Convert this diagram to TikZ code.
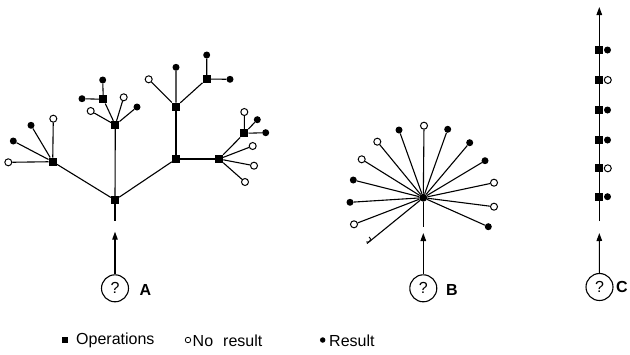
\documentclass[tikz,border=0pt]{standalone}
\usepackage{fontspec}
\setmainfont{Liberation Sans}
\usetikzlibrary{arrows.meta}
\tikzset{
  op/.style={rectangle,fill=black,inner sep=0pt,minimum size=8pt},
  res/.style={circle,fill=black,inner sep=0pt,minimum size=7pt},
  nores/.style={circle,draw=black,fill=white,line width=1pt,inner sep=0pt,minimum size=7pt},
  edge/.style={line width=1.1pt},
  arr/.style={line width=1.1pt,-{Triangle[length=8pt,width=5.5pt]}},
  qcirc/.style={circle,draw,line width=1.1pt,minimum size=27pt,inner sep=0pt,font=\fontsize{16}{16}\selectfont},
  lbl/.style={font=\fontsize{16}{16}\selectfont\bfseries,anchor=west,inner sep=0pt},
  leg/.style={font=\fontsize{16}{16}\selectfont,anchor=west,inner sep=0pt},
  dot/.style={circle,fill=black,inner sep=0pt,minimum size=6pt}
}
\begin{document}
\begin{tikzpicture}[x=1pt,y=-1pt]
\useasboundingbox[fill=white] (0,0) rectangle (630,354);
% ---------------- A ----------------
\node[op] (r) at (115,200) {};
\node[op] (l1) at (52.7,161.7) {};
\node[op] (m1) at (115.3,125) {};
\node[op] (m2) at (103.3,99.3) {};
\node[op] (t1) at (176,159) {};
\node[op] (t2) at (176,106.7) {};
\node[op] (t3) at (219,159) {};
\node[op] (t4) at (206.7,79) {};
\node[op] (t5) at (244.3,133.3) {};
\node[nores] (a1) at (8.3,162.3) {};
\node[res] (a2) at (13.3,141) {};
\node[res] (a3) at (31,125.3) {};
\node[nores] (a4) at (53.3,118.7) {};
\node[nores] (a5) at (90.7,111) {};
\node[nores] (a6) at (123.7,97.3) {};
\node[res] (a7) at (137,107) {};
\node[res] (a8) at (82,98.7) {};
\node[res] (a9) at (102.7,80) {};
\node[nores] (a10) at (148.7,79.3) {};
\node[res] (a11) at (176,67.3) {};
\node[res] (a12) at (206.7,55) {};
\node[res] (a13) at (230,79.3) {};
\node[nores] (a14) at (252.7,146) {};
\node[nores] (a15) at (254,165.7) {};
\node[nores] (a16) at (245,182) {};
\node[nores] (a17) at (244.3,112) {};
\node[res] (a18) at (257.3,119.7) {};
\node[res] (a19) at (265.7,132.7) {};
\draw[edge] (r) -- (l1) (r) -- (m1) (r) -- (t1);
\draw[edge] (l1) -- (a1) (l1) -- (a2) (l1) -- (a3) (l1) -- (a4);
\draw[edge] (m1) -- (a5) (m1) -- (m2) (m1) -- (a6) (m1) -- (a7);
\draw[edge] (m2) -- (a8) (m2) -- (a9);
\draw[edge] (t1) -- (t2) (t1) -- (t3);
\draw[edge] (t2) -- (a10) (t2) -- (a11) (t2) -- (t4);
\draw[edge] (t4) -- (a12) (t4) -- (a13);
\draw[edge] (t3) -- (t5) (t3) -- (a14) (t3) -- (a15) (t3) -- (a16);
\draw[edge] (t5) -- (a17) (t5) -- (a18) (t5) -- (a19);
\coordinate (ra) at (115,221);
\draw[edge] (r) -- (ra);
\node[qcirc] (qa) at (115,288.3) {?};
\coordinate (aa) at (115,231.7);
\draw[arr] (qa) -- (aa);
\node[lbl] (la) at (139.5,289.5) {A};
% ---------------- B ----------------
\node[circle,fill=black,inner sep=0pt,minimum size=8pt] (bc) at (423.3,197.7) {};
\node[nores] (b1) at (424,125.7) {};
\node[res] (b2) at (447.7,129.3) {};
\node[res] (b3) at (469.7,142.7) {};
\node[res] (b4) at (485,160.7) {};
\node[nores] (b5) at (494,182.7) {};
\node[nores] (b6) at (494,206.7) {};
\node[res] (b7) at (488.3,226.7) {};
\node[res] (b8) at (399,130) {};
\node[nores] (b9) at (377.3,141.7) {};
\node[nores] (b10) at (361.7,159.3) {};
\node[res] (b11) at (353.3,180) {};
\node[res] (b12) at (350,202.3) {};
\node[nores] (b13) at (354,224.3) {};
\coordinate (b14) at (367,243.5);
\foreach \i in {1,...,13} { \draw[edge] (bc) -- (b\i); }
\draw[edge] (bc) -- (b14);
\draw[line width=0.9pt] (366.3,241.8) arc[start angle=-120,end angle=60,radius=2.8pt];
\coordinate (rb) at (423.3,226.7);
\draw[edge] (bc) -- (rb);
\node[qcirc] (qb) at (423.3,288.3) {?};
\coordinate (ab) at (423.3,233);
\draw[arr] (qb) -- (ab);
\node[lbl] (lb) at (446,290) {B};
% ---------------- C ----------------
\coordinate (ct) at (599.3,7);
\coordinate (cb) at (599.3,221);
\draw[arr] (cb) -- (ct);
\node[op] (c1) at (599.3,50) {};
\node[op] (c2) at (599.3,80) {};
\node[op] (c3) at (599.3,110) {};
\node[op] (c4) at (599.3,140) {};
\node[op] (c5) at (599.3,168.3) {};
\node[op] (c6) at (599.3,196.7) {};
\node[res] (d1) at (607.5,50) {};
\node[nores] (d2) at (607.8,80) {};
\node[res] (d3) at (607.5,110) {};
\node[res] (d4) at (607.5,140) {};
\node[nores] (d5) at (607.8,168.3) {};
\node[res] (d6) at (607.5,196.7) {};
\node[qcirc] (qc) at (599.5,287) {?};
\coordinate (ac) at (599.3,233);
\draw[arr] (qc) -- (ac);
\node[lbl] (lc) at (616,287) {C};
% ---------------- legend ----------------
\node[rectangle,fill=black,inner sep=0pt,minimum size=6pt] (k1) at (65,340) {};
\node[leg] (k1t) at (76,340.5) {Operations};
\node[circle,draw,line width=0.8pt,inner sep=0pt,minimum size=5.5pt] (k2) at (188,340) {};
\node[leg] (k2t) at (192.5,340.5) {No\hspace{0.35em} result};
\node[dot,minimum size=5.5pt] (k3) at (322.7,340) {};
\node[leg] (k3t) at (329,340.5) {Result};
\end{tikzpicture}
\end{document}
